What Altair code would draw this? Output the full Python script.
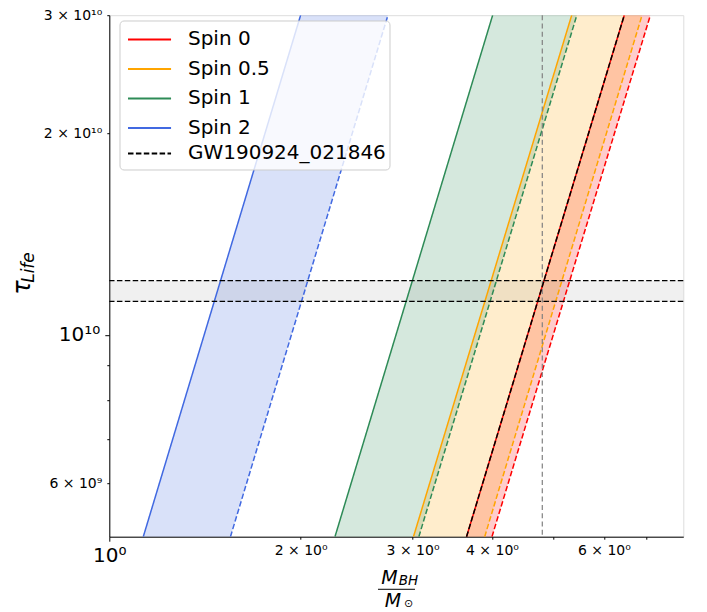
import altair as alt
import pandas as pd

# ---------------- data ----------------
spins = ["Spin 0", "Spin 0.5", "Spin 1", "Spin 2"]
colors = ["#ff0000", "#ffa500", "#2e8b57", "#4169e1"]
tau_ends = [5e9, 3e10]                      # lifetime at bottom / top of the view
solid_mass = [[3.648, 6.46], [3.01, 5.34], [2.265, 4.01], [1.131, 2.00]]
dashed_mass = [[4.00, 7.10], [3.896, 6.89], [3.069, 5.44], [1.551, 2.744]]

gw_label = "GW190924_021846"
gw_tau = [1.122e10, 1.205e10]
gw_mass = [4.80]

x_domain = [1, 8]
y_domain = [5e9, 3e10]

x_tick_values = [1, 2, 3, 4, 5, 6, 7]
x_tick_labels = ["10⁰", "2 × 10⁰", "3 × 10⁰", "4 × 10⁰", "", "6 × 10⁰", ""]
y_tick_values = [6e9, 7e9, 8e9, 9e9, 1e10, 2e10, 3e10]
y_tick_labels = ["6 × 10⁹", "", "", "", "10¹⁰", "2 × 10¹⁰", "3 × 10¹⁰"]

# ---------------- tables ----------------
line_rows = []
area_rows = []
for s, sm, dm in zip(spins, solid_mass, dashed_mass):
    for t, a, b in zip(tau_ends, sm, dm):
        line_rows.append({"spin": s, "style": "solid", "tau": t, "mass": a})
        line_rows.append({"spin": s, "style": "dashed", "tau": t, "mass": b})
        area_rows.append({"spin": s, "tau": t, "m_solid": a, "m_dashed": b})
lines_df = pd.DataFrame(line_rows)
area_df = pd.DataFrame(area_rows)
red_df = lines_df[(lines_df["spin"] == "Spin 0") & (lines_df["style"] == "solid")].reset_index(drop=True)
gw_df = pd.DataFrame({"event": [gw_label] * len(gw_tau), "tau": gw_tau})
band_df = pd.DataFrame({"t1": [gw_tau[0]], "t2": [gw_tau[1]], "x1": [x_domain[0]], "x2": [x_domain[1]]})
vline_df = pd.DataFrame({"mass": gw_mass})


def label_expr(values, labels):
    parts = []
    for v, l in zip(values, labels):
        parts.append(f"abs(datum.value - {v!r}) < {abs(v) * 1e-6!r} ? '{l}'")
    return " : ".join(parts) + " : ''"


W, H = 574, 521.5
PAD_L, PAD_T = 101.3, 7.2
OX, OY = 8 + PAD_L, 8 + PAD_T          # page position of the plot origin
FONT = "DejaVu Sans"
DASH = [5.5, 2.4]

x_scale = alt.Scale(type="log", domain=x_domain, nice=False, zero=False)
y_scale = alt.Scale(type="log", domain=y_domain, nice=False, zero=False)

x_axis = alt.Axis(
    values=x_tick_values, labelExpr=label_expr(x_tick_values, x_tick_labels),
    title=None, grid=False, labelFont=FONT, labelColor="black",
    labelFontSize={"condition": {"test": "datum.value == 1", "value": 20}, "value": 14},
    tickSize={"condition": {"test": "datum.value == 1", "value": 4.5}, "value": 2.5},
    labelPadding=4, labelFlush=False, labelOverlap=False, tickColor="black",
    domainColor="black",
)
y_axis = alt.Axis(
    values=y_tick_values, labelExpr=label_expr(y_tick_values, y_tick_labels),
    title=None, grid=False, labelFont=FONT, labelColor="black",
    labelFontSize={"condition": {"test": "datum.value == 10000000000", "value": 20}, "value": 14},
    tickSize={"condition": {"test": "datum.value == 10000000000", "value": 4.5}, "value": 2.5},
    labelPadding=5, labelFlush=False, labelOverlap=False, tickColor="black",
    domainColor="black",
)

# legend geometry (page pixels)
BOX_X0, BOX_Y0, BOX_X1, BOX_Y1 = 120, 21, 390, 170
ROW = 28.5
SYM = 441  # sqrt -> 21 px entry height; custom path stretches the stroke to ~43 px
legend_common = dict(
    title=None, orient="none", legendX=BOX_X0 - OX,
    symbolType="M-1,0L3.1,0", symbolSize=SYM, symbolStrokeWidth=2, symbolOpacity=1,
    symbolFillColor="transparent",
    labelFont=FONT, labelFontSize=20, labelColor="black", labelOffset=38, labelLimit=500,
    padding=7, rowPadding=ROW - 21,
)
spin_legend = alt.Legend(legendY=BOX_Y0 - OY, **legend_common)
gw_legend = alt.Legend(legendY=BOX_Y0 + 4 * ROW - OY, symbolDash=DASH, symbolStrokeColor="black",
                       **legend_common)

# the fill scale lists the spins in reverse order so its (hidden) legend is not merged with the colour legend
areas = alt.Chart(area_df).mark_area(orient="horizontal", opacity=0.2).encode(
    y=alt.Y("tau:Q", scale=y_scale, axis=y_axis),
    x=alt.X("m_solid:Q", scale=x_scale, axis=x_axis),
    x2="m_dashed:Q",
    fill=alt.Fill("spin:N", scale=alt.Scale(domain=spins[::-1], range=colors[::-1]), legend=None),
    detail="spin:N",
)
band = alt.Chart(band_df).mark_rect(color="#808080", opacity=0.12).encode(
    x=alt.X("x1:Q", scale=x_scale), x2="x2:Q",
    y=alt.Y("t1:Q", scale=y_scale), y2="t2:Q",
)
lines = alt.Chart(lines_df).mark_line(strokeWidth=1.5, clip=True).encode(
    x=alt.X("mass:Q", scale=x_scale),
    y=alt.Y("tau:Q", scale=y_scale),
    color=alt.Color("spin:N", scale=alt.Scale(domain=spins, range=colors), legend=spin_legend, sort=spins),
    strokeDash=alt.StrokeDash("style:N", scale=alt.Scale(domain=["solid", "dashed"], range=[[1, 0], DASH]),
                              legend=None),
    detail="style:N",
    order="tau:Q",
)
black_overlay = alt.Chart(red_df).mark_line(strokeWidth=1.5, color="black", strokeDash=DASH).encode(
    x=alt.X("mass:Q", scale=x_scale),
    y=alt.Y("tau:Q", scale=y_scale),
    order="tau:Q",
)
gw_rules = alt.Chart(gw_df).mark_rule(strokeWidth=1.3, color="black", strokeDash=DASH).encode(
    y=alt.Y("tau:Q", scale=y_scale),
    opacity=alt.Opacity("event:O", scale=alt.Scale(type="ordinal", range=[1]), legend=gw_legend),
)
vline = alt.Chart(vline_df).mark_rule(strokeWidth=1.2, color="#808080", strokeDash=[5, 3.3]).encode(
    x=alt.X("mass:Q", scale=x_scale),
)

one = pd.DataFrame({"k": [0]})
legend_box = alt.Chart(one).mark_rect(fill="white", fillOpacity=0.8, stroke="#cccccc", strokeWidth=1,
                                      cornerRadius=4).encode(
    x=alt.value(BOX_X0 - OX), x2=alt.value(BOX_X1 - OX),
    y=alt.value(BOX_Y0 - OY), y2=alt.value(BOX_Y1 - OY))

# axis titles (math-style text)
tau_t = alt.Chart(one).mark_text(text="τ", font=FONT, fontSize=24, fontStyle="italic", angle=270,
                                 align="center", baseline="middle", color="black").encode(
    x=alt.value(22.5 - OX), y=alt.value(287.5 - OY))
life_t = alt.Chart(one).mark_text(text="Life", font=FONT, fontSize=17, fontStyle="italic", angle=270,
                                  align="center", baseline="middle", color="black").encode(
    x=alt.value(29 - OX), y=alt.value(267.5 - OY))
m_up = alt.Chart(one).mark_text(text="M", font=FONT, fontSize=19, fontStyle="italic",
                                align="center", baseline="alphabetic", color="black").encode(
    x=alt.value(389.5 - OX), y=alt.value(583.7 - OY))
bh = alt.Chart(one).mark_text(text="BH", font=FONT, fontSize=13.5, fontStyle="italic",
                              align="left", baseline="alphabetic", color="black").encode(
    x=alt.value(398.8 - OX), y=alt.value(585.1 - OY))
bar = alt.Chart(one).mark_rule(color="black", strokeWidth=1).encode(
    x=alt.value(378 - OX), x2=alt.value(415 - OX), y=alt.value(589.3 - OY))
m_low = alt.Chart(one).mark_text(text="M", font=FONT, fontSize=19, fontStyle="italic",
                                 align="center", baseline="alphabetic", color="black").encode(
    x=alt.value(393 - OX), y=alt.value(607 - OY))
sun = alt.Chart(one).mark_text(text="⊙", font=FONT, fontSize=11, align="center",
                               baseline="alphabetic", color="black").encode(
    x=alt.value(408.5 - OX), y=alt.value(607 - OY))

chart = alt.layer(
    areas, band, lines, gw_rules, vline, black_overlay, legend_box,
    tau_t, life_t, m_up, bh, bar, m_low, sun,
).properties(
    width=W, height=H,
    padding={"left": PAD_L, "top": PAD_T, "right": 15, "bottom": 85},
    autosize=alt.AutoSizeParams(type="none"),
).configure_view(
    stroke="black", strokeWidth=1,
).configure(
    font=FONT,
)

chart.save("out.html", embed_options={"renderer": "svg", "actions": False})
